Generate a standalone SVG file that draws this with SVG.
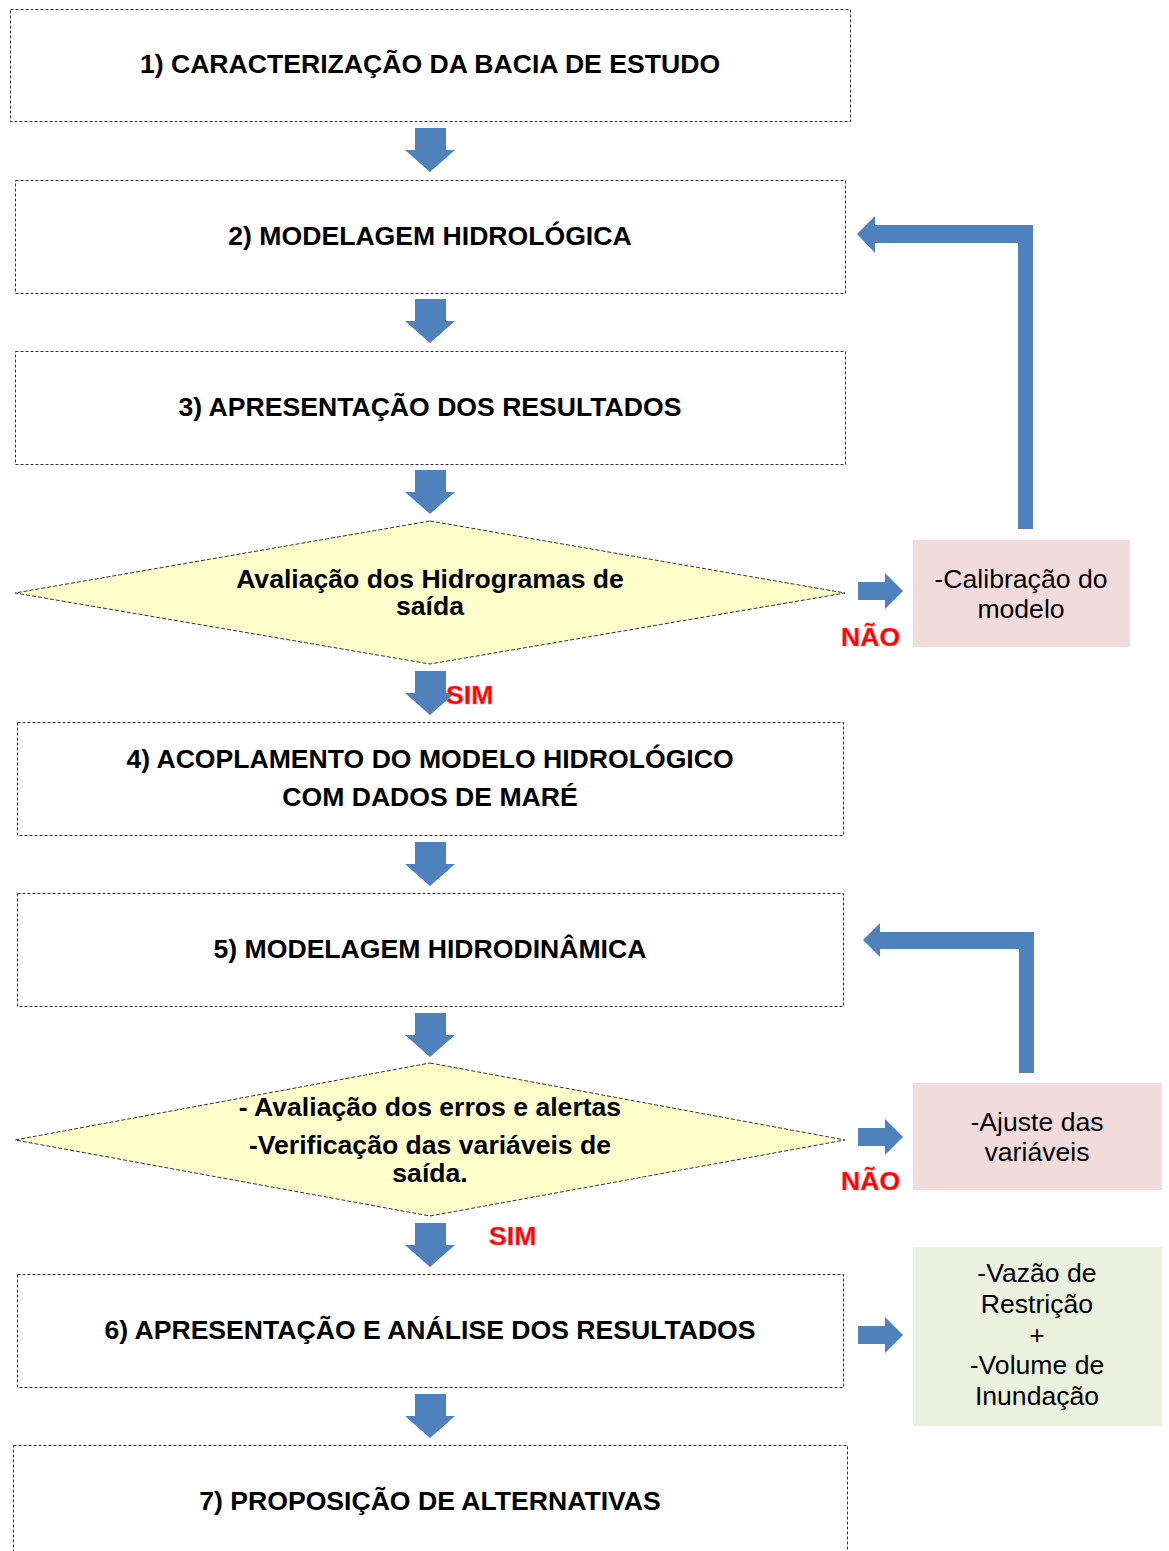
<svg xmlns="http://www.w3.org/2000/svg" width="1169" height="1551" viewBox="0 0 1169 1551">
<style>
.box{fill:#fff;stroke:#333;stroke-width:1;stroke-dasharray:3 2}
.dia{fill:#ffffcc;stroke:#333;stroke-width:1;stroke-dasharray:4 2}
.t{font-family:"Liberation Sans",Arial,sans-serif;font-weight:bold;font-size:26.6px;fill:#000;text-anchor:middle}
.r{font-family:"Liberation Sans",Arial,sans-serif;font-size:26.6px;fill:#000;text-anchor:middle}
.red{font-family:"Liberation Sans",Arial,sans-serif;font-weight:bold;font-size:26.6px;fill:#ff0000;stroke:#ff6666;stroke-width:0.6}
.arr{fill:#4f81bd}
</style>
<defs>
<path id="down" d="M-15,0 H16 V22 H25 L0,44 L-25,22 H-15 Z"/>
<path id="right" d="M0,-9 H27 V-18 L45,0 L27,18 V9 H0 Z"/>
</defs>
<rect width="1169" height="1551" fill="#fff"/>
<g id="n1"><rect class="box" x="10.5" y="9.5" width="840" height="112"/><text class="t" x="430" y="73">1) CARACTERIZAÇÃO DA BACIA DE ESTUDO</text></g>
<g id="n2"><rect class="box" x="15.5" y="180.5" width="830" height="113"/><text class="t" x="430" y="245">2) MODELAGEM HIDROLÓGICA</text></g>
<g id="n3"><rect class="box" x="15.5" y="351.5" width="830" height="113"/><text class="t" x="430" y="416">3) APRESENTAÇÃO DOS RESULTADOS</text></g>
<g id="d1"><polygon class="dia" points="430,521 845,593 430,664 15,593"/><text class="t" x="430" y="588">Avaliação dos Hidrogramas de</text><text class="t" x="430" y="615">saída</text></g>
<g id="c1"><rect x="913" y="540" width="217" height="107" fill="#f2dcdb"/><text class="r" x="1021" y="588">-Calibração do</text><text class="r" x="1021" y="618">modelo</text></g>
<g id="n4"><rect class="box" x="17.5" y="722.5" width="826" height="113"/><text class="t" x="430" y="768">4) ACOPLAMENTO DO MODELO HIDROLÓGICO</text><text class="t" x="430" y="806">COM DADOS DE MARÉ</text></g>
<g id="n5"><rect class="box" x="17.5" y="893.5" width="826" height="113"/><text class="t" x="430" y="958">5) MODELAGEM HIDRODINÂMICA</text></g>
<g id="d2"><polygon class="dia" points="430,1063 845,1140 430,1216 15,1140"/><text class="t" x="430" y="1116">- Avaliação dos erros e alertas</text><text class="t" x="430" y="1154">-Verificação das variáveis de</text><text class="t" x="430" y="1182">saída.</text></g>
<g id="c2"><rect x="913" y="1083" width="249" height="107" fill="#f2dcdb"/><text class="r" x="1037" y="1131">-Ajuste das</text><text class="r" x="1037" y="1161">variáveis</text></g>
<g id="n6"><rect class="box" x="17.5" y="1274.5" width="826" height="113"/><text class="t" x="430" y="1339">6) APRESENTAÇÃO E ANÁLISE DOS RESULTADOS</text></g>
<g id="c3"><rect x="913" y="1247" width="249" height="179" fill="#ebf1de"/><text class="r" x="1037" y="1282">-Vazão de</text><text class="r" x="1037" y="1313">Restrição</text><text class="r" x="1037" y="1344">+</text><text class="r" x="1037" y="1374">-Volume de</text><text class="r" x="1037" y="1405">Inundação</text></g>
<g id="n7"><rect class="box" x="13.5" y="1445.5" width="834" height="112"/><text class="t" x="430" y="1510">7) PROPOSIÇÃO DE ALTERNATIVAS</text></g>
<g id="connectors">
<use href="#down" class="arr" x="430" y="128"/>
<use href="#down" class="arr" x="430" y="299"/>
<use href="#down" class="arr" x="430" y="470"/>
<use href="#down" class="arr" x="430" y="671"/>
<use href="#down" class="arr" x="430" y="842"/>
<use href="#down" class="arr" x="430" y="1013"/>
<use href="#down" class="arr" x="430" y="1223"/>
<use href="#down" class="arr" x="430" y="1394"/>
<use href="#right" class="arr" x="858" y="591"/>
<use href="#right" class="arr" x="858" y="1137"/>
<use href="#right" class="arr" x="858" y="1335"/>
<path class="arr" d="M1018,529 V243 H875 V253 L857,234 L875,216 V225 H1033 V529 Z"/>
<path class="arr" d="M1019,1073 V949 H880 V957 L863,940 L880,923 V932 H1034 V1073 Z"/>
<text class="red" x="841" y="646">NÃO</text>
<text class="red" x="446" y="704">SIM</text>
<text class="red" x="841" y="1190">NÃO</text>
<text class="red" x="489" y="1245">SIM</text>
</g>
</svg>
